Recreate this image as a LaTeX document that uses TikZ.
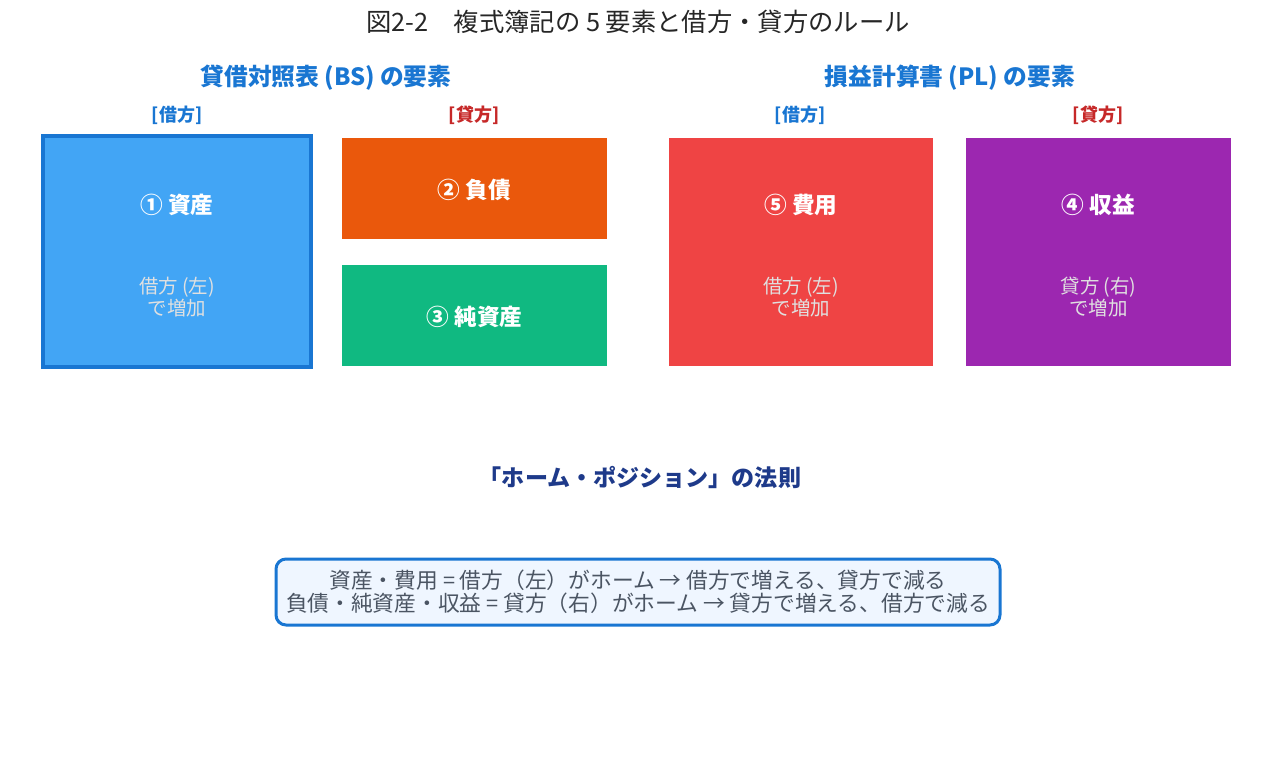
\documentclass[tikz,border=0pt]{standalone}
\usepackage{fontspec}
\setmainfont{Noto Sans CJK JP}
\usepackage{tikz}
\usetikzlibrary{shapes.geometric}
\usetikzlibrary{arrows,shapes}

\definecolor{headblue}{HTML}{1976D2}
\definecolor{kasired}{HTML}{C62828}
\definecolor{assetblue}{HTML}{42A5F5}
\definecolor{debtorange}{HTML}{EA580C}
\definecolor{equitygreen}{HTML}{10B981}
\definecolor{costred}{HTML}{EF4444}
\definecolor{gainpurple}{HTML}{9C27B0}
\definecolor{rulenavy}{HTML}{1E3A8A}
\definecolor{rulefill}{HTML}{EFF6FF}
\definecolor{ruletext}{HTML}{4B5563}

\begin{document}
\begin{tikzpicture}[x=0.75pt,y=-0.75pt]
\useasboundingbox (0,0) rectangle (1275,767);

\tikzstyle{heading}=[text=headblue, font=\fontsize{17.8pt}{21pt}\selectfont\bfseries]
\tikzstyle{side}=[font=\fontsize{13.5pt}{16pt}\selectfont\bfseries]
\tikzstyle{elem}=[rectangle, draw=none, inner sep=0pt, minimum width=198.75pt]
\tikzstyle{elemname}=[text=white, font=\fontsize{17pt}{20pt}\selectfont\bfseries]
\tikzstyle{elemnote}=[text=white!88!black, align=center, font=\fontsize{14.6pt}{15pt}\selectfont]

\node (title) at (638,22) {\fontsize{19pt}{22pt}\selectfont\color{black!85}図2-2　複式簿記の 5 要素と借方・貸方のルール};

% BS side
\node[heading] (bs) at (326,78) {貸借対照表 (BS) の要素};
\node[side, text=headblue] (bsdr) at (177,115) {[借方]};
\node[side, text=kasired] (bscr) at (474,115) {[貸方]};

\node[rectangle, draw=headblue, line width=3pt, fill=assetblue,
    minimum width = 201pt, minimum height = 173.25pt] (r1) at (177,251.5) {};
\node[elemname] (r1name) at (177,205) {① 資産};
\node[elemnote] (r1note) at (177,297) {借方 (左)\\で増加};

\node[elem, fill=debtorange, minimum height = 75.75pt] (r2) at (474.5,188.5) {};
\node[elemname] (r2name) at (474.5,190) {② 負債};
\node[elem, fill=equitygreen, minimum height = 75.75pt] (r3) at (474.5,315.5) {};
\node[elemname] (r3name) at (474.5,317) {③ 純資産};

% PL side
\node[heading] (pl) at (950,78) {損益計算書 (PL) の要素};
\node[side, text=headblue] (pldr) at (800,115) {[借方]};
\node[side, text=kasired] (plcr) at (1098,115) {[貸方]};

\node[elem, fill=costred, minimum width = 198pt, minimum height = 171pt] (r5) at (801,252) {};
\node[elemname] (r5name) at (801,205) {⑤ 費用};
\node[elemnote] (r5note) at (801,297) {借方 (左)\\で増加};

\node[elem, fill=gainpurple, minimum height = 171pt] (r4) at (1098.5,252) {};
\node[elemname] (r4name) at (1098.5,205) {④ 収益};
\node[elemnote] (r4note) at (1098.5,297) {貸方 (右)\\で増加};

% rule
\node[text=rulenavy, font=\fontsize{17.3pt}{20pt}\selectfont\bfseries] (home) at (640,478) {「ホーム・ポジション」の法則};
\node[rectangle, rounded corners=7.5pt, draw=headblue, line width=2.25pt, fill=rulefill,
    minimum width = 543pt, minimum height = 49.5pt, text=ruletext, align=center,
    font=\fontsize{16.3pt}{17.25pt}\selectfont] (rule) at (638,592)
    {資産・費用 = 借方（左）がホーム → 借方で増える、貸方で減る\\
     負債・純資産・収益 = 貸方（右）がホーム → 貸方で増える、借方で減る};
\end{tikzpicture}
\end{document}
